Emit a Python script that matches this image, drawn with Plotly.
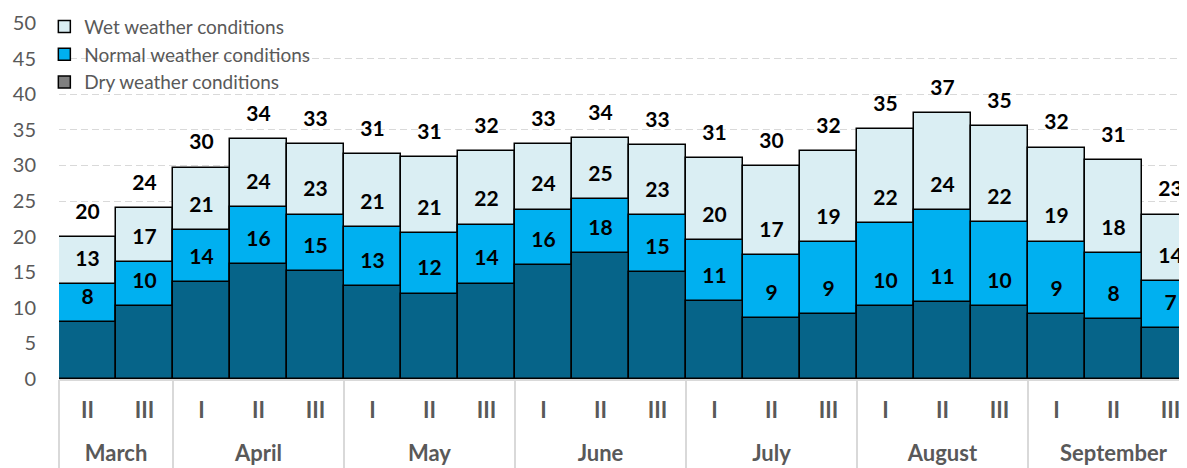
import plotly.graph_objects as go

# ---------------- data ----------------
months = ["March", "March",
          "April", "April", "April",
          "May", "May", "May",
          "June", "June", "June",
          "July", "July", "July",
          "August", "August", "August",
          "September", "September", "September"]
dekads = ["II", "III",
          "I", "II", "III",
          "I", "II", "III",
          "I", "II", "III",
          "I", "II", "III",
          "I", "II", "III",
          "I", "II", "III"]

# bar heights
dry_values = [8.0, 10.3, 13.6, 16.2, 15.1, 13.1, 12.0, 13.4, 16.0, 17.7,
              15.0, 11.0, 8.5, 9.1, 10.3, 10.8, 10.2, 9.1, 8.4, 7.1]
normal_values = [13.3, 16.4, 20.9, 24.1, 23.1, 21.3, 20.5, 21.7, 23.8, 25.3,
                 23.0, 19.5, 17.4, 19.2, 21.9, 23.7, 22.0, 19.3, 17.7, 13.8]
wet_values = [19.9, 24.0, 29.7, 33.7, 33.0, 31.6, 31.2, 32.0, 33.0, 33.8,
              32.8, 31.0, 29.9, 32.0, 35.1, 37.3, 35.5, 32.5, 30.8, 23.1]

# value labels printed on the chart
dry_labels = [8, 10, 14, 16, 15, 13, 12, 14, 16, 18, 15, 11, 9, 9, 10, 11, 10, 9, 8, 7]
normal_labels = [13, 17, 21, 24, 23, 21, 21, 22, 24, 25, 23, 20, 17, 19, 22, 24, 22, 19, 18, 14]
wet_labels = [20, 24, 30, 34, 33, 31, 31, 32, 33, 34, 33, 31, 30, 32, 35, 37, 35, 32, 31, 23]

series_names = ["Wet weather conditions", "Normal weather conditions", "Dry weather conditions"]

# ---------------- derived category helpers ----------------
x_keys = [m + " " + d for m, d in zip(months, dekads)]
month_names, month_centers, month_bounds = [], [], [-0.5]
i = 0
while i < len(months):
    j = i
    while j + 1 < len(months) and months[j + 1] == months[i]:
        j += 1
    month_names.append(months[i])
    month_centers.append((i + j) / 2)
    month_bounds.append(j + 0.5)
    i = j + 1

# ---------------- style ----------------
LIGHT = "#DAEEF3"
BLUE = "#00B0F0"
DARK = "#066489"
LEGEND_DRY = "#808080"
GRAY_TEXT = "#595959"
LINE_GRAY = "#D9D9D9"
FONT = "Lato"
X_RANGE = [-0.5, 19.29]
PAGE_MARGIN = 8  # default browser body margin around the figure

outline = dict(color="black", width=1.5)

fig = go.Figure()
fig.add_trace(go.Bar(x=x_keys, y=wet_values, name=series_names[0],
                     marker=dict(color=LIGHT, line=outline), hoverinfo="skip"))
fig.add_trace(go.Bar(x=x_keys, y=normal_values, name=series_names[1],
                     marker=dict(color=BLUE, line=outline), hoverinfo="skip"))
fig.add_trace(go.Bar(x=x_keys, y=dry_values, name=series_names[2], showlegend=False,
                     marker=dict(color=DARK, line=outline), hoverinfo="skip"))
# legend entry for the dry series (shown in gray in the legend)
fig.add_trace(go.Bar(x=x_keys, y=[None] * len(x_keys), name=series_names[2],
                     marker=dict(color=LEGEND_DRY, line=outline), hoverinfo="skip"))

for vals, labels in [(wet_values, wet_labels), (normal_values, normal_labels), (dry_values, dry_labels)]:
    fig.add_trace(go.Scatter(
        x=x_keys, y=vals, text=[str(v) for v in labels], mode="markers+text",
        textposition="top center",
        marker=dict(size=19, opacity=0),
        textfont=dict(family=FONT, size=21, color="black", weight="bold"),
        showlegend=False, hoverinfo="skip", cliponaxis=False))

# empty helper traces so the month-label axis and the divider axis are drawn
fig.add_trace(go.Scatter(x=month_centers, y=[None] * len(month_centers), xaxis="x2",
                         mode="markers", showlegend=False, hoverinfo="skip"))
fig.add_trace(go.Scatter(x=month_bounds, y=[None] * len(month_bounds), xaxis="x3",
                         mode="markers", showlegend=False, hoverinfo="skip"))

fig.update_layout(
    width=1187 - PAGE_MARGIN, height=468 - PAGE_MARGIN,
    margin=dict(l=59 - PAGE_MARGIN, r=0, t=23 - PAGE_MARGIN, b=89, autoexpand=False),
    barmode="overlay", bargap=0,
    plot_bgcolor="white", paper_bgcolor="white",
    font=dict(family=FONT, color=GRAY_TEXT),
    legend=dict(x=-0.013, y=1.043, xanchor="left", yanchor="top",
                bgcolor="rgba(0,0,0,0)", font=dict(family=FONT, size=19, color=GRAY_TEXT),
                traceorder="normal", tracegroupgap=0),
    yaxis=dict(range=[0, 50], dtick=5, showgrid=True, gridcolor=LINE_GRAY,
               griddash="7px,4px", gridwidth=1, zeroline=False, showline=False,
               tickfont=dict(family=FONT, size=20, color=GRAY_TEXT),
               ticklabelstandoff=22),
    xaxis=dict(type="category", range=X_RANGE, showgrid=False,
               tickmode="array", tickvals=x_keys, ticktext=dekads, ticks="",
               showline=True, linecolor=LINE_GRAY, linewidth=2,
               tickfont=dict(family=FONT, size=22, color=GRAY_TEXT, weight="bold"),
               ticklabelstandoff=11),
    xaxis2=dict(overlaying="x", anchor="y", side="bottom", type="linear",
                range=X_RANGE, showgrid=False, zeroline=False, showline=False,
                tickmode="array", tickvals=month_centers, ticktext=month_names, ticks="",
                tickfont=dict(family=FONT, size=22, color=GRAY_TEXT, weight="bold"),
                ticklabelstandoff=59),
    xaxis3=dict(overlaying="x", anchor="y", side="bottom", type="linear",
                range=X_RANGE, showgrid=False, zeroline=False, showline=False,
                tickmode="array", tickvals=month_bounds, showticklabels=False,
                ticks="outside", ticklen=89, tickwidth=1.5, tickcolor=LINE_GRAY),
)

fig.write_html("out.html")
